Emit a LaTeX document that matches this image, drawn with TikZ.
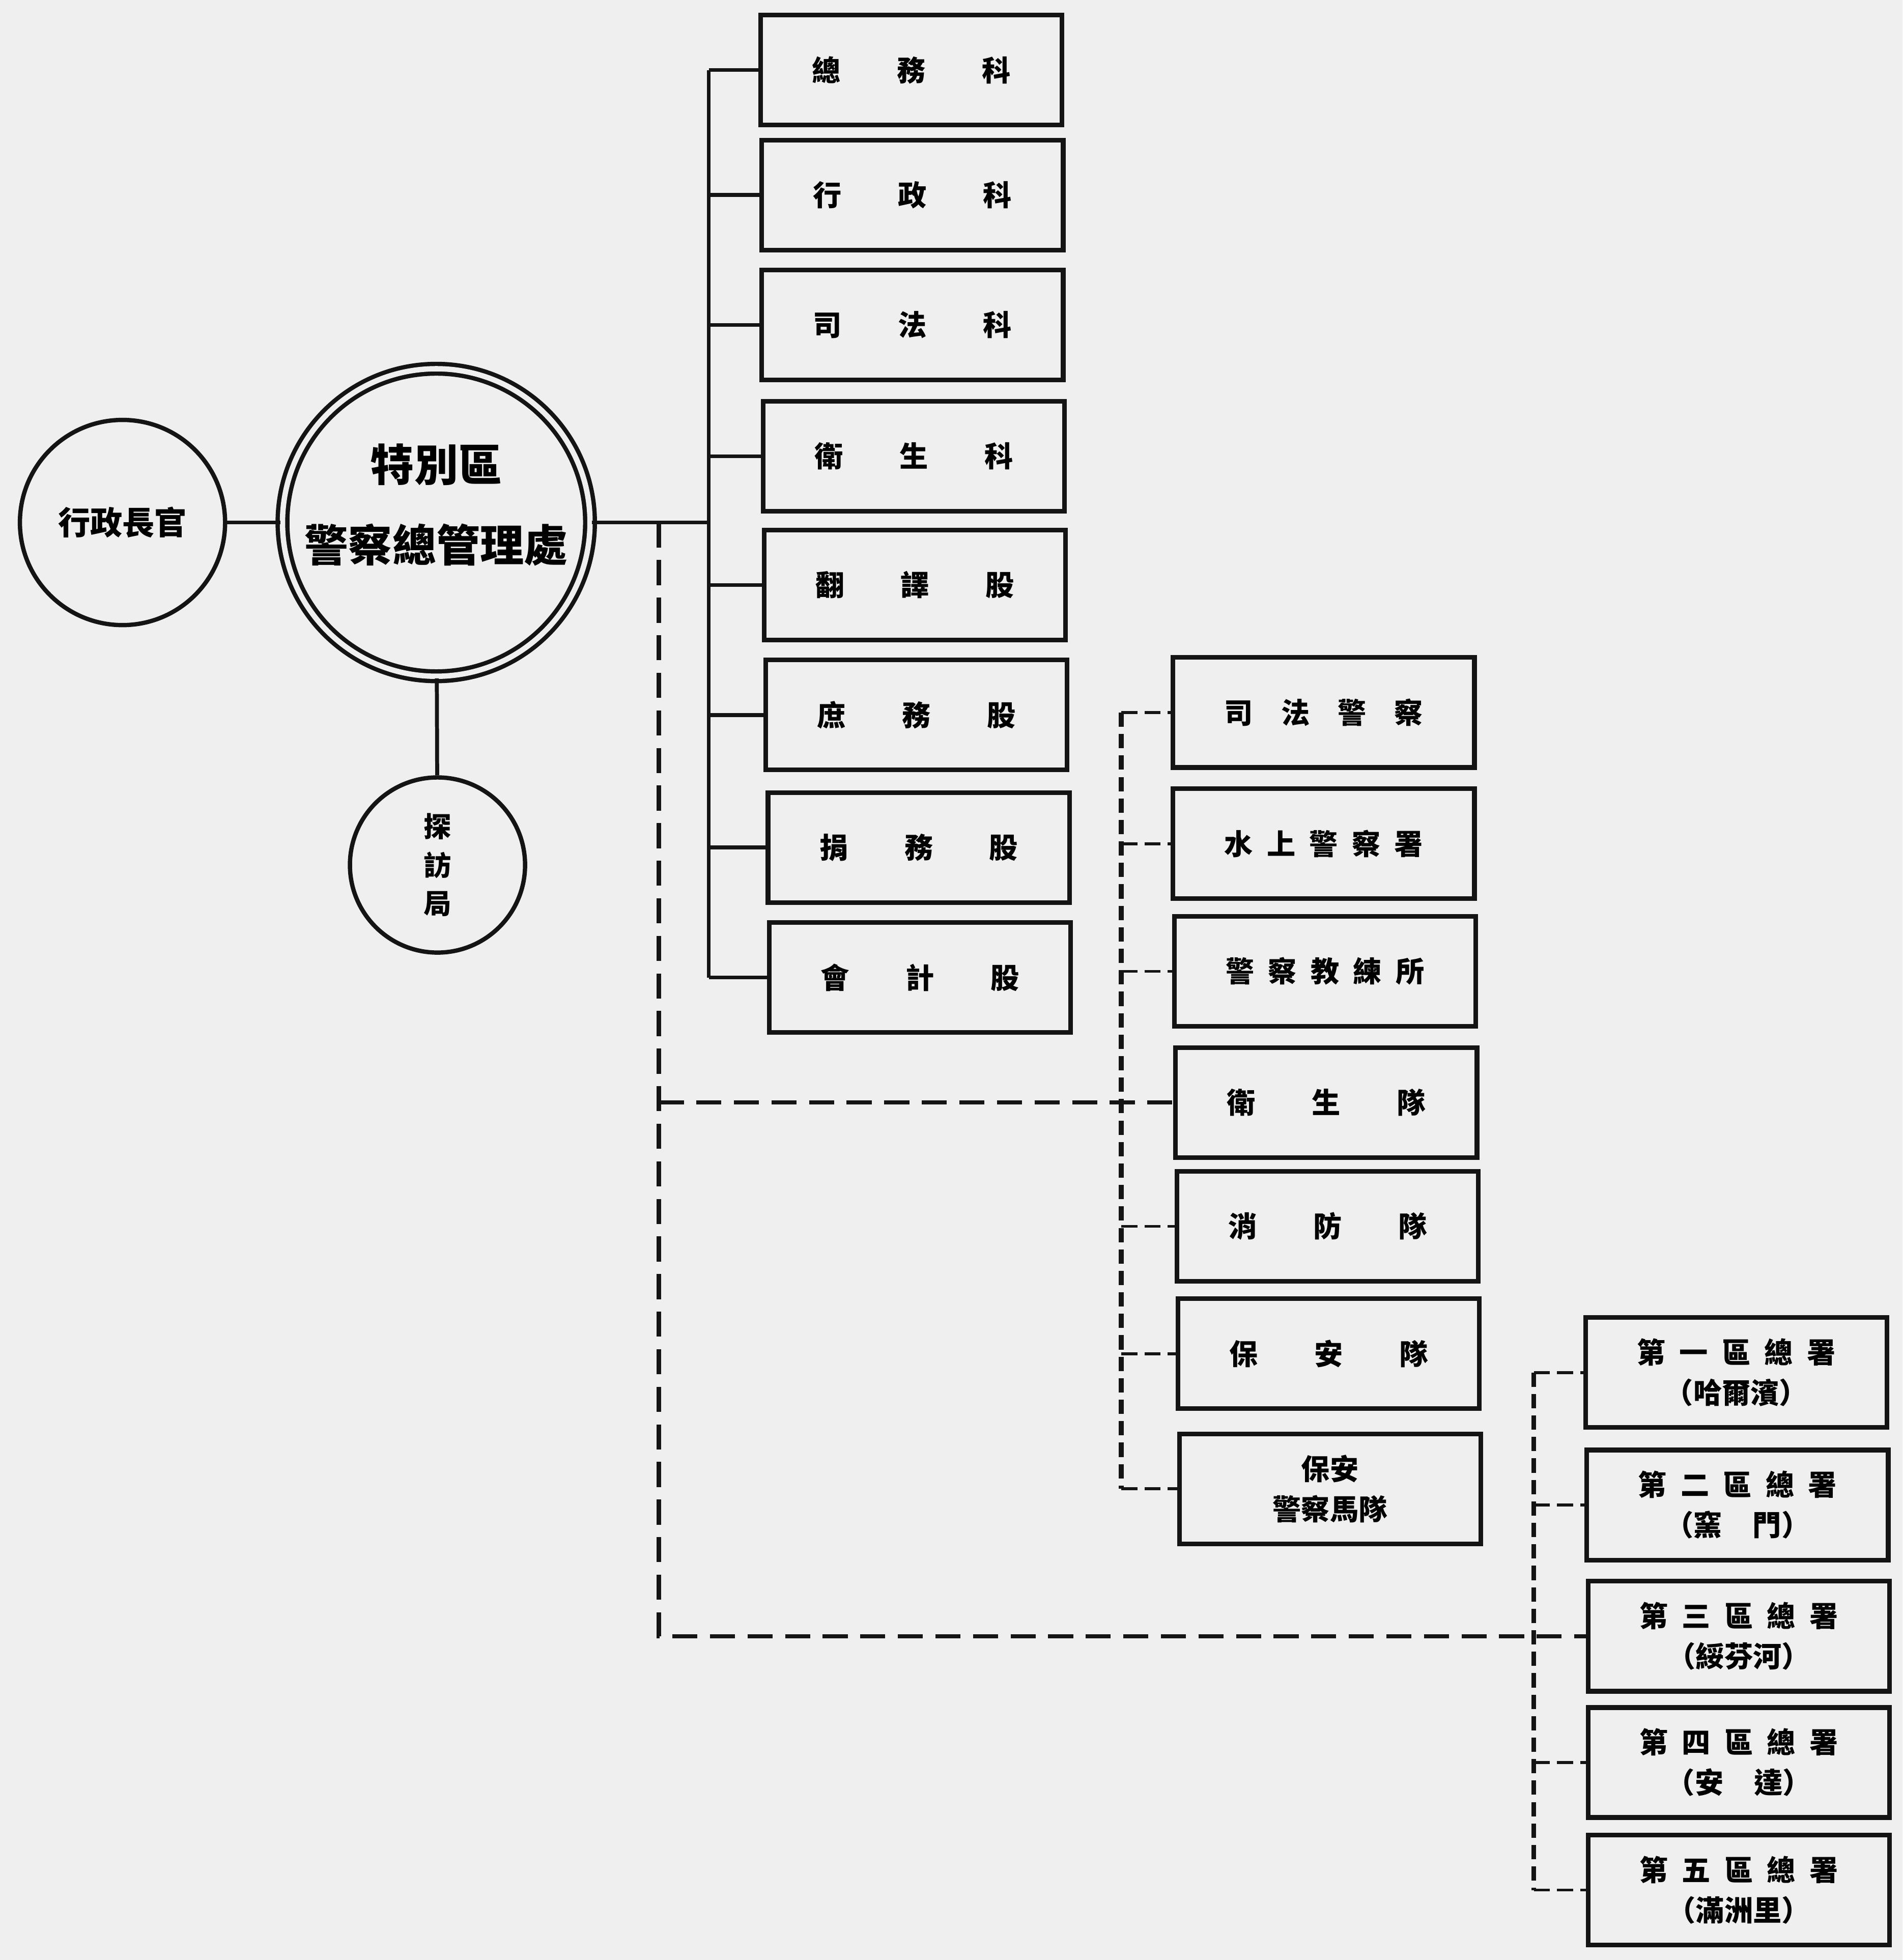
\documentclass[tikz,border=0pt]{standalone}
\usepackage{fontspec}
\setmainfont{Noto Sans CJK TC}
\usetikzlibrary{positioning, calc}
\definecolor{paper}{HTML}{EFEFEF}
\definecolor{ink}{HTML}{141414}
\tikzset{
  every picture/.style={line width=2.2pt},
  office/.style={draw=ink, line width=2.6pt, minimum width=5.92cm, minimum height=2.16cm, inner sep=0pt, align=center, font=\fontsize{16}{22.5}\selectfont\bfseries},
  disc/.style={circle, draw=ink, line width=2.4pt, inner sep=0pt, align=center},
  link/.style={draw=ink, line width=2.2pt},
  dlink/.style={draw=ink, line width=2.4pt, dash pattern=on 14pt off 7pt},
  dtrunk/.style={draw=ink, line width=2.8pt, dash pattern=on 8pt off 4pt},
  dstub/.style={draw=ink, line width=1.6pt, dash pattern=on 9pt off 4pt},
}
\newcommand{\spr}[1]{\makebox[3.9cm][s]{#1}}
\newcommand{\sprs}[1]{\makebox[2.85cm][s]{#1}}

\begin{document}
\begin{tikzpicture}[x=0.024553cm, y=-0.024553cm]
  \fill[paper] (0,0) rectangle (1522,1568);
  \useasboundingbox (0,0) rectangle (1522,1568);

  % circles on the left
  \node[disc, minimum size=4.03cm, font=\fontsize{18}{22}\selectfont\bfseries] (zhangguan) at (98,418) {行政長官};
  \node[disc, double=paper, double distance=3pt, minimum size=6.04cm, font=\fontsize{24.5}{45}\selectfont\bfseries] (zongchu) at (349,418)
    {\raisebox{0.34cm}[\height][\depth]{\begin{tabular}{@{}c@{}}特別區\\警察總管理處\end{tabular}}};
  \node[disc, minimum size=3.44cm, font=\fontsize{15.5}{21.5}\selectfont\bfseries] (tanfang) at (350,692) {探\\訪\\局};

  % first column
  \node[office] (zongwu) at (729,56) {\spr{總\hfill 務\hfill 科}};
  \node[office] (xingzheng) at (730,156) {\spr{行\hfill 政\hfill 科}};
  \node[office] (sifa) at (730,260) {\spr{司\hfill 法\hfill 科}};
  \node[office] (weisheng) at (731,365) {\spr{衛\hfill 生\hfill 科}};
  \node[office] (fanyi) at (732,468) {\spr{翻\hfill 譯\hfill 股}};
  \node[office] (shuwu) at (733,572) {\spr{庶\hfill 務\hfill 股}};
  \node[office] (juanwu) at (735,678) {\spr{捐\hfill 務\hfill 股}};
  \node[office] (kuaiji) at (736,782) {\spr{會\hfill 計\hfill 股}};

  % second column
  \node[office] (sifajc) at (1059,570) {\spr{司\hfill 法\hfill 警\hfill 察}};
  \node[office] (shuishang) at (1059,675) {\spr{水\hfill 上\hfill 警\hfill 察\hfill 署}};
  \node[office] (jiaolian) at (1060,777) {\spr{警\hfill 察\hfill 教\hfill 練\hfill 所}};
  \node[office] (weishengdui) at (1061,882) {\spr{衛\hfill 生\hfill 隊}};
  \node[office] (xiaofang) at (1062,981) {\spr{消\hfill 防\hfill 隊}};
  \node[office] (baoan) at (1063,1083) {\spr{保\hfill 安\hfill 隊}};
  \node[office] (madui) at (1064,1191) {保安\\警察馬隊};

  % third column
  \node[office] (qu1) at (1389,1098) {\spr{第\hfill 一\hfill 區\hfill 總\hfill 署}\\（哈爾濱）};
  \node[office] (qu2) at (1390,1204) {\spr{第\hfill 二\hfill 區\hfill 總\hfill 署}\\\sprs{（窯\hfill 門）}};
  \node[office] (qu3) at (1391,1309) {\spr{第\hfill 三\hfill 區\hfill 總\hfill 署}\\（綏芬河）};
  \node[office] (qu4) at (1391,1410) {\spr{第\hfill 四\hfill 區\hfill 總\hfill 署}\\\sprs{（安\hfill 達）}};
  \node[office] (qu5) at (1391,1512) {\spr{第\hfill 五\hfill 區\hfill 總\hfill 署}\\（滿洲里）};

  % solid links
  \draw[link] (zhangguan) -- (zongchu);
  \draw[link] (zongchu) -- (tanfang);
  \coordinate (trunk) at (567,0);
  \draw[link] (zongwu.west -| trunk) -- (kuaiji.west -| trunk);
  \draw[link] (zongchu.east) -- (zongchu.east -| trunk);
  \foreach \n in {zongwu, xingzheng, sifa, weisheng, fanyi, shuwu, juanwu, kuaiji}
    \draw[link] (\n.west -| trunk) -- (\n.west);

  % dashed links
  \coordinate (drop) at (527,418);
  \draw[dlink] (drop) -- (drop |- qu3.west) -- (qu3.west);
  \draw[dlink] (drop |- weishengdui.west) -- (weishengdui.west);

  \coordinate (ctrunk) at (897,0);
  \draw[dtrunk] (sifajc.west -| ctrunk) -- (madui.west -| ctrunk);
  \foreach \n in {sifajc, shuishang, jiaolian, xiaofang, baoan, madui}
    \draw[dstub] (\n.west -| ctrunk) -- (\n.west);

  \coordinate (qtrunk) at (1227,0);
  \draw[dtrunk] (qu1.west -| qtrunk) -- (qu5.west -| qtrunk);
  \foreach \n in {qu1, qu2, qu4, qu5}
    \draw[dstub] (\n.west -| qtrunk) -- (\n.west);
\end{tikzpicture}
\end{document}
